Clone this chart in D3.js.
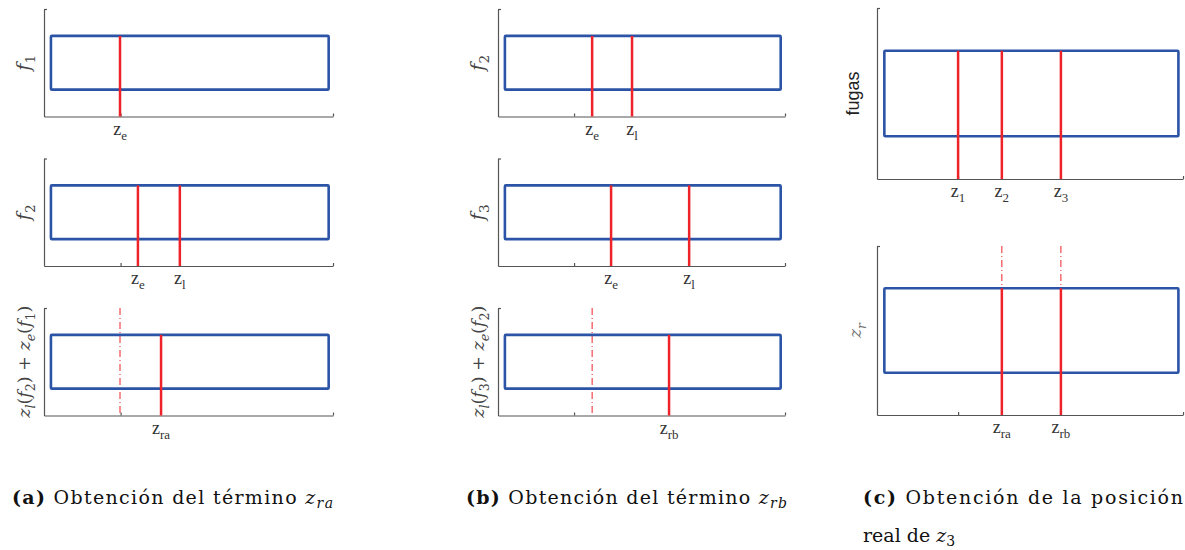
<!DOCTYPE html>
<html>
<head>
<meta charset="utf-8">
<script src="https://cdn.jsdelivr.net/npm/d3@7"></script>
<style>
  body { margin: 0; background: #fff; }
  svg { display: block; }
  .serif { font-family: "DejaVu Serif", "Liberation Serif", "Times New Roman", serif; }
  .times { font-family: "Liberation Serif", "DejaVu Serif", "Times New Roman", serif; }
</style>
</head>
<body>
<svg id="fig" width="1185" height="550"></svg>
<script>
// ---------------- datos (posición en eje z, escala 0-100) ----------------
// (a) Obtención del término z_ra
const aSolid = [[26.3], [32.5, 47.0], [40.5]];
const aSolidLabels = [["e"], ["e", "l"], ["ra"]];
const aDashed = [[], [], [26.3]];
const aYLabels = [
    [["f", "i"], ["1", "s"]],
    [["f", "i"], ["2", "s"]],
    [["z", "i"], ["l", "si"], ["(", "r"], ["f", "i"], ["2", "s"], [") + ", "r"],
     ["z", "i"], ["e", "si"], ["(", "r"], ["f", "i"], ["1", "s"], [")", "r"]]
];

// (b) Obtención del término z_rb
const bSolid = [[32.8, 46.7], [39.4, 66.6], [59.6]];
const bSolidLabels = [["e", "l"], ["e", "l"], ["rb"]];
const bDashed = [[], [], [32.8]];
const bYLabels = [
    [["f", "i"], ["2", "s"]],
    [["f", "i"], ["3", "s"]],
    [["z", "i"], ["l", "si"], ["(", "r"], ["f", "i"], ["3", "s"], [") + ", "r"],
     ["z", "i"], ["e", "si"], ["(", "r"], ["f", "i"], ["2", "s"], [")", "r"]]
];

// (c) Obtención de la posición real de z3
const cSolid = [[26.5, 40.8, 60.1], [40.8, 60.1]];
const cSolidLabels = [["1", "2", "3"], ["ra", "rb"]];
const cDashed = [[], [40.8, 60.1]];
const cYLabels = [
    [["fugas", "sans"]],
    [["z", "i"], ["r", "si"]]
];

// caja azul (rango z y rango y) y marcas del eje
const boxZ = [2.4, 98.5];
const boxY = [0.25, 0.75];
const zTicks = [26.5, 100];

// ---------------- estilo ----------------
const BLUE = "#2c54a6";
const RED = "#ee2229";
const AXIS = "#555";

const svg = d3.select("#fig");

// texto con subíndices e itálicas
function rich(text, tokens, size) {
    let shifted = false;
    tokens.forEach(([t, k]) => {
        const sub = (k === "s" || k === "si");
        const ts = text.append("tspan").text(t)
            .style("font-style", (k === "i" || k === "si") ? "italic" : "normal")
            .style("font-size", (sub ? size * 0.72 : size) + "px");
        if (k === "sans") ts.style("font-family", "'Liberation Sans', Arial, sans-serif");
        if (sub && !shifted) { ts.attr("dy", size * 0.28); shifted = true; }
        else if (!sub && shifted) { ts.attr("dy", -size * 0.28); shifted = false; }
    });
}

function drawPlot(cfg) {
    const x = d3.scaleLinear().domain([0, 100]).range([cfg.x0, cfg.x1]);
    const y = d3.scaleLinear().domain([0, 1]).range([cfg.bottom, cfg.top]);
    const g = svg.append("g");

    // ejes
    const xAxis = g.append("g")
        .attr("transform", "translate(0," + cfg.bottom + ")")
        .call(d3.axisBottom(x).tickValues(zTicks).tickSizeInner(-3).tickSizeOuter(0).tickFormat(""));
    const yAxis = g.append("g")
        .attr("transform", "translate(" + cfg.x0 + ",0)")
        .call(d3.axisLeft(y).tickValues([1]).tickSizeInner(-3).tickSizeOuter(0).tickFormat(""));
    [xAxis, yAxis].forEach(a => {
        a.selectAll("path, line").attr("stroke", AXIS).attr("stroke-width", 1.2);
    });

    // líneas punto-raya
    g.selectAll(".dash")
        .data(cfg.dashed)
        .enter().append("line")
        .attr("x1", d => x(d)).attr("x2", d => x(d))
        .attr("y1", y(1)).attr("y2", y(0))
        .attr("stroke", RED)
        .attr("stroke-width", 1)
        .attr("stroke-dasharray", "7,3,1,3");

    // caja azul
    g.append("rect")
        .attr("x", x(boxZ[0]))
        .attr("y", y(boxY[1]))
        .attr("width", x(boxZ[1]) - x(boxZ[0]))
        .attr("height", y(boxY[0]) - y(boxY[1]))
        .attr("fill", "none")
        .attr("stroke", BLUE)
        .attr("stroke-width", 2.6)
        .attr("rx", 1);

    // líneas rojas continuas
    g.selectAll(".solid")
        .data(cfg.solid)
        .enter().append("line")
        .attr("x1", d => x(d)).attr("x2", d => x(d))
        .attr("y1", y(boxY[1])).attr("y2", y(0))
        .attr("stroke", RED)
        .attr("stroke-width", 2.5);

    // etiquetas z
    cfg.solid.forEach((d, i) => {
        const t = g.append("text")
            .attr("class", "times")
            .attr("x", x(d))
            .attr("y", cfg.bottom + 18)
            .attr("text-anchor", "middle")
            .attr("fill", "#333");
        rich(t, [["z", "r"], [cfg.labels[i], "s"]], 18);
    });

    // etiqueta eje y
    const yl = g.append("text")
        .attr("class", "serif")
        .attr("transform", "translate(" + cfg.yLabelX + "," + ((cfg.top + cfg.bottom) / 2) + ") rotate(-90)")
        .attr("text-anchor", "middle")
        .attr("fill", cfg.yLabelColor || "#444");
    rich(yl, cfg.yLabel, cfg.yLabelSize || 19);
}

// ---------------- composición ----------------
const rowTops = [9, 158.5, 308];
const rowH = 107.5;

[
    { x0: 44, x1: 333, yLabelX: 30, solid: aSolid, labels: aSolidLabels, dashed: aDashed, ylab: aYLabels },
    { x0: 498, x1: 785, yLabelX: 484, solid: bSolid, labels: bSolidLabels, dashed: bDashed, ylab: bYLabels }
].forEach(p => {
    rowTops.forEach((top, r) => {
        drawPlot({
            x0: p.x0, x1: p.x1, top: top, bottom: top + rowH,
            solid: p.solid[r], labels: p.labels[r], dashed: p.dashed[r],
            yLabel: p.ylab[r], yLabelX: p.yLabelX, yLabelSize: r === 2 ? 17.5 : 19
        });
    });
});

drawPlot({
    x0: 877, x1: 1183, top: 8, bottom: 179,
    solid: cSolid[0], labels: cSolidLabels[0], dashed: cDashed[0],
    yLabel: cYLabels[0], yLabelX: 859, yLabelColor: "#222", yLabelSize: 18
});
drawPlot({
    x0: 877, x1: 1183, top: 246, bottom: 415,
    solid: cSolid[1], labels: cSolidLabels[1], dashed: cDashed[1],
    yLabel: cYLabels[1], yLabelX: 861, yLabelColor: "#777", yLabelSize: 17
});

// ---------------- pies de figura ----------------
function caption(xPos, yPos, width, parts) {
    const t = svg.append("text")
        .attr("class", "serif")
        .attr("x", xPos).attr("y", yPos)
        .style("font-size", "19px")
        .attr("fill", "#111");
    if (width) t.attr("textLength", width).attr("lengthAdjust", "spacing");
    parts.forEach(([s, k]) => {
        const ts = t.append("tspan").text(s);
        if (k === "b") ts.style("font-weight", "bold");
        if (k === "i") ts.style("font-style", "italic");
        if (k === "si") ts.style("font-style", "italic").style("font-size", "14px").attr("dy", 4);
        if (k === "s") ts.style("font-size", "14px").attr("dy", 4);
    });
}

caption(12, 504, 321, [["(a)", "b"], [" Obtención del término ", ""], ["z", "i"], ["ra", "si"]]);
caption(466, 504, 321, [["(b)", "b"], [" Obtención del término ", ""], ["z", "i"], ["rb", "si"]]);
caption(863, 504, 320, [["(c)", "b"], [" Obtención de la posición", ""]]);
caption(863, 542, null, [["real de ", ""], ["z", "i"], ["3", "s"]]);
</script>
</body>
</html>
